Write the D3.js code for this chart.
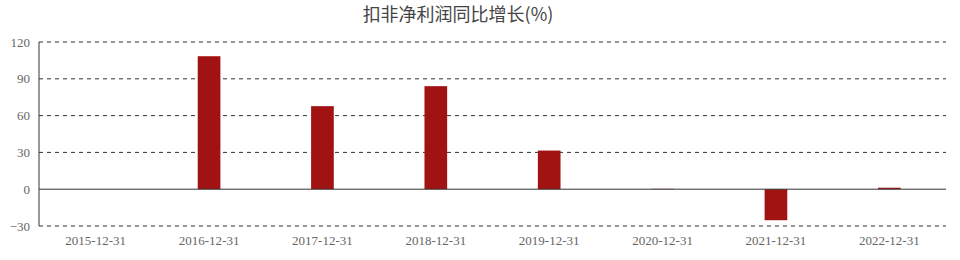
<!DOCTYPE html>
<html>
<head>
<meta charset="utf-8">
<script src="https://cdn.jsdelivr.net/npm/d3@7/dist/d3.min.js"></script>
<style>
  body { margin: 0; background: #fff; }
</style>
</head>
<body>
<div id="chart"></div>
<script>
// chart data
var categories = ['2015-12-31','2016-12-31','2017-12-31','2018-12-31','2019-12-31','2020-12-31','2021-12-31','2022-12-31'];
var growth = [null, 108.4, 67.7, 84.0, 31.5, 0.3, -25.3, 1.2];
var yTicks = [-30, 0, 30, 60, 90, 120];
var title = '扣非净利润同比增长(%)';

var w = 960, h = 260;
var margin = {top: 42, right: 14, bottom: 34, left: 39};

var svg = d3.select('#chart')
  .append('svg')
  .attr('width', w)
  .attr('height', h);

var x = d3.scaleBand()
  .domain(categories)
  .range([margin.left, w - margin.right])
  .paddingInner(0.8)
  .paddingOuter(0.4);

var y = d3.scaleLinear()
  .domain([-30, 120])
  .range([h - margin.bottom, margin.top]);

// title
svg.append('text')
  .attr('x', 458)
  .attr('y', 21)
  .attr('text-anchor', 'middle')
  .attr('font-family', '"Noto Sans CJK SC", sans-serif')
  .attr('font-size', 18)
  .attr('fill', '#444')
  .text(title);

// dashed grid lines
svg.append('g')
  .selectAll('line')
  .data(yTicks.filter(function(d) { return d !== 0; }))
  .enter()
  .append('line')
  .attr('x1', margin.left)
  .attr('x2', w - margin.right)
  .attr('y1', function(d) { return y(d); })
  .attr('y2', function(d) { return y(d); })
  .attr('stroke', '#333')
  .attr('stroke-width', 1)
  .attr('stroke-dasharray', '4,4');

// y axis labels
var yAxis = d3.axisLeft(y).tickValues(yTicks).tickSize(0).tickPadding(9);
var gy = svg.append('g')
  .attr('transform', 'translate(' + margin.left + ',0)')
  .call(yAxis);
gy.select('.domain').remove();
gy.selectAll('text')
  .attr('font-family', '"Liberation Serif", serif')
  .attr('font-size', 13)
  .attr('fill', '#666');

// bars
svg.append('g')
  .selectAll('rect')
  .data(growth.map(function(v, i) { return {cat: categories[i], v: v}; }).filter(function(d) { return d.v !== null; }))
  .enter()
  .append('rect')
  .attr('x', function(d) { return x(d.cat); })
  .attr('width', x.bandwidth())
  .attr('y', function(d) { return y(Math.max(0, d.v)); })
  .attr('height', function(d) { return Math.abs(y(d.v) - y(0)); })
  .attr('fill', '#a11212');

// zero line
svg.append('line')
  .attr('x1', margin.left)
  .attr('x2', w - margin.right)
  .attr('y1', y(0))
  .attr('y2', y(0))
  .attr('stroke', '#333')
  .attr('stroke-width', 1);

// left axis line
svg.append('line')
  .attr('x1', margin.left)
  .attr('x2', margin.left)
  .attr('y1', y(120))
  .attr('y2', y(-30))
  .attr('stroke', '#333')
  .attr('stroke-width', 1);

// x axis labels
var xAxis = d3.axisBottom(x).tickSize(0).tickPadding(10);
var gx = svg.append('g')
  .attr('transform', 'translate(0,' + y(-30) + ')')
  .call(xAxis);
gx.select('.domain').remove();
gx.selectAll('text')
  .attr('font-family', '"Liberation Serif", serif')
  .attr('font-size', 13)
  .attr('fill', '#666');
</script>
</body>
</html>
